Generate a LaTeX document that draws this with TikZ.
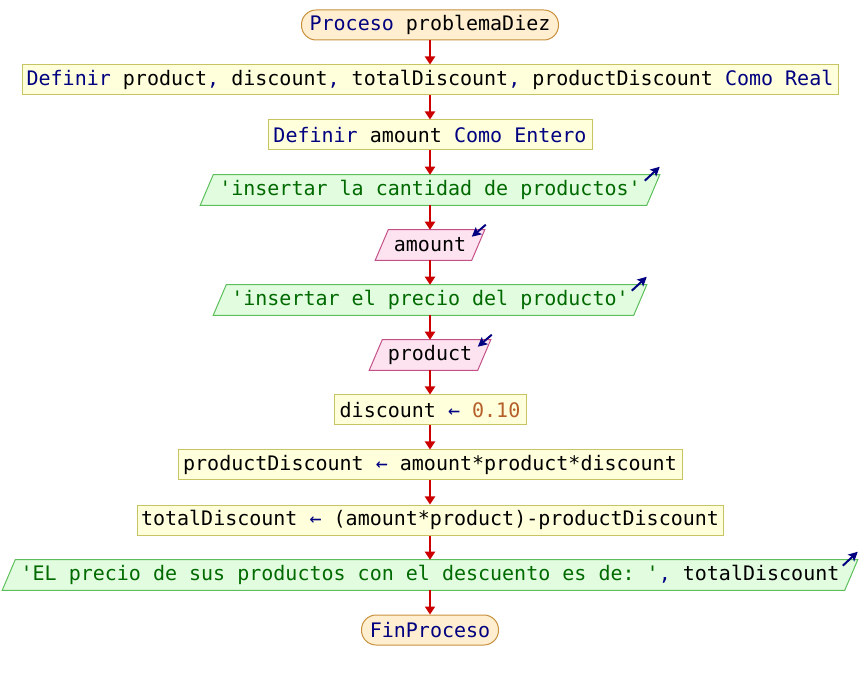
\documentclass[tikz,border=0pt]{standalone}
\usepackage{fontspec}
\setmonofont{DejaVu Sans Mono}
\usetikzlibrary{arrows.meta,calc,backgrounds}
\definecolor{kwc}{HTML}{000080}
\definecolor{strc}{HTML}{006A00}
\definecolor{numc}{HTML}{B5602A}
\definecolor{flowred}{HTML}{CC0000}
\definecolor{termfill}{HTML}{FFEFD0}
\definecolor{termdraw}{HTML}{C8903C}
\definecolor{procfill}{HTML}{FFFFDC}
\definecolor{procdraw}{HTML}{C8C464}
\definecolor{outfill}{HTML}{E2FCE0}
\definecolor{outdraw}{HTML}{5CBF5C}
\definecolor{infill}{HTML}{FDE2F0}
\definecolor{indraw}{HTML}{C45088}
\newcommand\kwd[1]{\textcolor{kwc}{#1}}
\newcommand\strg[1]{\textcolor{strc}{#1}}
\newcommand\numb[1]{\textcolor{numc}{#1}}
\begin{document}
\begin{tikzpicture}[x=0.75pt,y=-0.75pt,
  base/.style={inner sep=0pt, minimum height=22.5pt, text=black,
    font=\ttfamily\fontsize{15}{18}\selectfont},
  bw/.style={minimum width=#1*0.75pt},
  term/.style={base, draw=termdraw, fill=termfill, rounded corners=11pt, line width=0.75pt},
  proc/.style={base, draw=procdraw, fill=procfill, line width=0.75pt},
  io/.style={base},
  outbox/.style={draw=outdraw, fill=outfill, line width=0.75pt},
  inbox/.style={draw=indraw, fill=infill, line width=0.75pt},
  flow/.style={draw=flowred, line width=1.5pt, -{Triangle[length=6pt,width=7.5pt]}},
  ioarrow/.style={draw=kwc, line width=1.5pt, -{Stealth[length=7pt,width=7pt,inset=1.5pt]}}]
\useasboundingbox (0,0) rectangle (860,680);
\node[term, bw=257] (n1) at (430,25) {\kwd{Proceso} problemaDiez};
\node[proc, bw=816] (n2) at (430,80) {\kwd{Definir} product\kwd{,} discount\kwd{,} totalDiscount\kwd{,} productDiscount \kwd{Como Real}};
\node[proc, bw=324] (n3) at (430,135) {\kwd{Definir} amount \kwd{Como Entero}};
\node[io, bw=446] (n4) at (430,190) {\strg{'insertar la cantidad de productos'}};
\node[io, bw=96] (n5) at (430,245) {amount};
\node[io, bw=420] (n6) at (430,300) {\strg{'insertar el precio del producto'}};
\node[io, bw=108] (n7) at (430,355) {product};
\node[proc, bw=192] (n8) at (430,410) {discount \kwd{←} \numb{0.10}};
\node[proc, bw=504] (n9) at (430,465) {productDiscount \kwd{←} amount*product*discount};
\node[proc, bw=586] (n10) at (430,520) {totalDiscount \kwd{←} (amount*product)-productDiscount};
\node[io, bw=842] (n11) at (430,575) {\strg{'EL precio de sus productos con el descuento es de: '}\kwd{,} totalDiscount};
\node[term, bw=137] (n12) at (430,630) {\kwd{FinProceso}};
\begin{scope}[on background layer]
  \foreach \n/\s in {n4/outbox, n5/inbox, n6/outbox, n7/inbox, n11/outbox}{
    \draw[\s] ($(\n.north west)+(6.5,0)$) -- ($(\n.north east)+(6.5,0)$)
      -- ($(\n.south east)+(-6.5,0)$) -- ($(\n.south west)+(-6.5,0)$) -- cycle;
  }
\end{scope}
\foreach \n in {n4, n6, n11}{
  \draw[ioarrow] ($(\n.north east)+(-8.5,6)$) -- ($(\n.north east)+(6.5,-8)$);
}
\foreach \n in {n5, n7}{
  \draw[ioarrow] ($(\n.north east)+(7.5,-5)$) -- ($(\n.north east)+(-6.5,7)$);
}
\foreach \a/\b in {n1/n2, n2/n3, n3/n4, n4/n5, n5/n6, n6/n7, n7/n8, n8/n9, n9/n10, n10/n11, n11/n12}{
  \draw[flow] (\a.south) -- (\b.north);
}
\end{tikzpicture}
\end{document}
